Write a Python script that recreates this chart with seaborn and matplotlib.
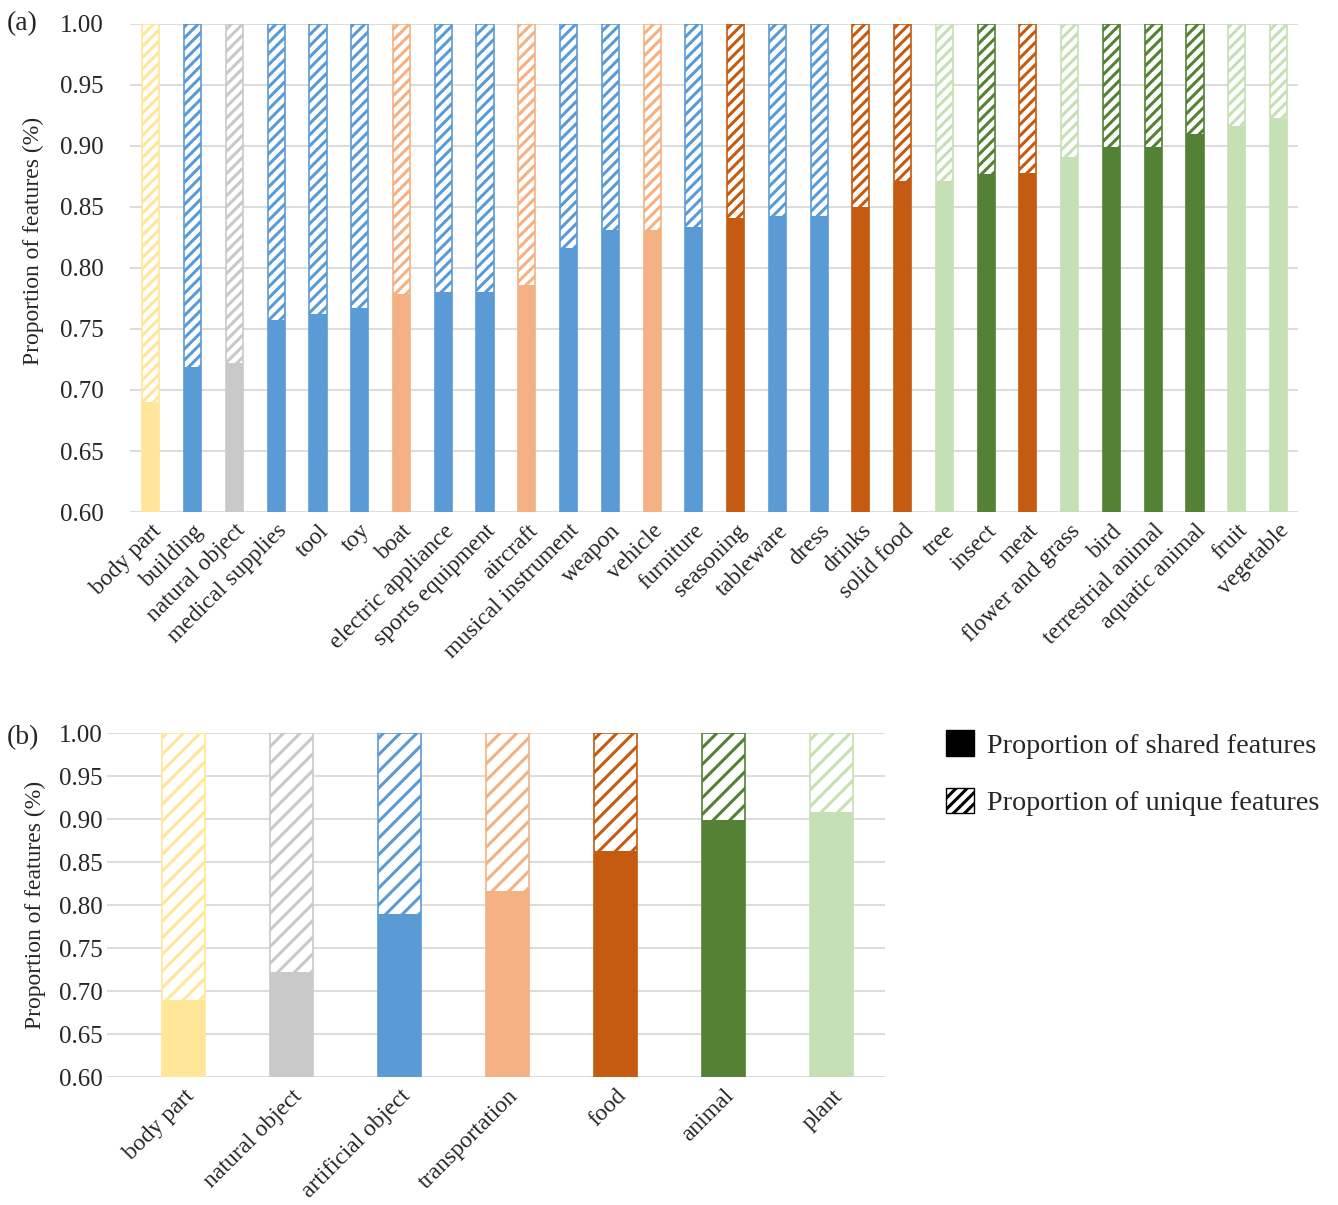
import matplotlib
matplotlib.use("Agg")
import matplotlib.pyplot as plt
from matplotlib.patches import Patch
import numpy as np
import pandas as pd
import seaborn as sns

# ---- data -------------------------------------------------------------
fine_categories = [
    "body part", "building", "natural object", "medical supplies", "tool", "toy",
    "boat", "electric appliance", "sports equipment", "aircraft",
    "musical instrument", "weapon", "vehicle", "furniture", "seasoning",
    "tableware", "dress", "drinks", "solid food", "tree", "insect", "meat",
    "flower and grass", "bird", "terrestrial animal", "aquatic animal",
    "fruit", "vegetable",
]
fine_shared = [
    0.690, 0.719, 0.722, 0.757, 0.762, 0.767, 0.779, 0.780, 0.780, 0.786,
    0.816, 0.831, 0.831, 0.834, 0.841, 0.843, 0.843, 0.850, 0.871, 0.871,
    0.877, 0.878, 0.891, 0.899, 0.899, 0.910, 0.916, 0.923,
]
fine_group = [
    "body", "artificial", "natural", "artificial", "artificial", "artificial",
    "transport", "artificial", "artificial", "transport", "artificial",
    "artificial", "transport", "artificial", "food", "artificial", "artificial",
    "food", "food", "plant", "animal", "food", "plant", "animal", "animal",
    "animal", "plant", "plant",
]

coarse_categories = [
    "body part", "natural object", "artificial object", "transportation",
    "food", "animal", "plant",
]
coarse_shared = [0.690, 0.722, 0.790, 0.816, 0.863, 0.899, 0.908]
coarse_group = ["body", "natural", "artificial", "transport", "food", "animal", "plant"]

group_colors = {
    "body": "#FFE699",
    "natural": "#C9C9C9",
    "artificial": "#5B9BD5",
    "transport": "#F4B183",
    "food": "#C55A11",
    "animal": "#548235",
    "plant": "#C5E0B4",
}

# ---- style ------------------------------------------------------------
sns.set_theme(style="white")
plt.rcParams["font.family"] = ["Liberation Serif", "DejaVu Serif"]
plt.rcParams["hatch.linewidth"] = 2.2

fig = plt.figure(figsize=(13.38, 12.05), dpi=100)
ax_a = fig.add_axes([0.0972, 0.5751, 0.873, 0.405])
ax_b = fig.add_axes([0.0800, 0.1062, 0.5815, 0.2855])


def stacked_panel(ax, categories, shared, groups, width, hatch, ytick_pad, xlim):
    shared = np.asarray(shared)
    unique = 1.0 - shared
    df = pd.DataFrame({
        "category": categories,
        "shared": shared,
        "total": shared + unique,
    })
    palette = {c: group_colors[g] for c, g in zip(categories, groups)}

    # full-height hatched bars (unique portion shows above the shared bar)
    sns.barplot(data=df, x="category", y="total", hue="category",
                palette=palette, order=categories, hue_order=categories,
                saturation=1, width=width, legend=False, ax=ax)
    for p in list(ax.patches):
        col = p.get_facecolor()
        p.set_facecolor("white")
        p.set_edgecolor(col)
        p.set_hatch(hatch)
        p.set_linewidth(1.2)
    n_hatched = len(ax.patches)

    # solid shared bars drawn over the lower part
    sns.barplot(data=df, x="category", y="shared", hue="category",
                palette=palette, order=categories, hue_order=categories,
                saturation=1, width=width, legend=False, ax=ax)
    for p in ax.patches[n_hatched:]:
        p.set_linewidth(0)

    ticks = np.arange(0.60, 1.001, 0.05)
    ax.set_ylim(0.6, 1.0)
    ax.set_xlim(*xlim)
    ax.set_yticks(ticks)
    ax.set_yticklabels([f"{v:.2f}" for v in ticks], fontsize=18)
    ax.yaxis.grid(True, color="#D9D9D9", linewidth=1.3)
    ax.set_axisbelow(True)
    for s in ax.spines.values():
        s.set_visible(False)
    ax.tick_params(axis="both", length=0)
    ax.tick_params(axis="y", pad=ytick_pad)
    ax.tick_params(axis="x", pad=6)
    ax.set_xlabel("")
    ax.set_ylabel("Proportion of features (%)", fontsize=17)
    plt.setp(ax.get_xticklabels(), rotation=45, ha="right",
             rotation_mode="anchor", fontsize=17)


stacked_panel(ax_a, fine_categories, fine_shared, fine_group,
              width=0.41, hatch="///", ytick_pad=19, xlim=(-0.5, 27.47))
stacked_panel(ax_b, coarse_categories, coarse_shared, coarse_group,
              width=0.40, hatch="//", ytick_pad=3, xlim=(-0.708, 6.495))

ax_a.yaxis.set_label_coords(-0.0734, 0.555)
ax_b.yaxis.set_label_coords(-0.079, 0.5)

fig.text(0.005, 0.980, "(a)", fontsize=20, va="center", ha="left")
fig.text(0.005, 0.3876, "(b)", fontsize=20, va="center", ha="left")

handles = [
    Patch(facecolor="black", edgecolor="black", label="Proportion of shared features"),
    Patch(facecolor="white", edgecolor="black", hatch="///",
          label="Proportion of unique features"),
]
fig.legend(handles=handles, loc="upper left",
           bbox_to_anchor=(0.6880, 0.4150), frameon=False, fontsize=20.3,
           handlelength=1.0, handleheight=1.0, handletextpad=0.45,
           labelspacing=1.05)

fig.savefig("out.png", dpi=100)
